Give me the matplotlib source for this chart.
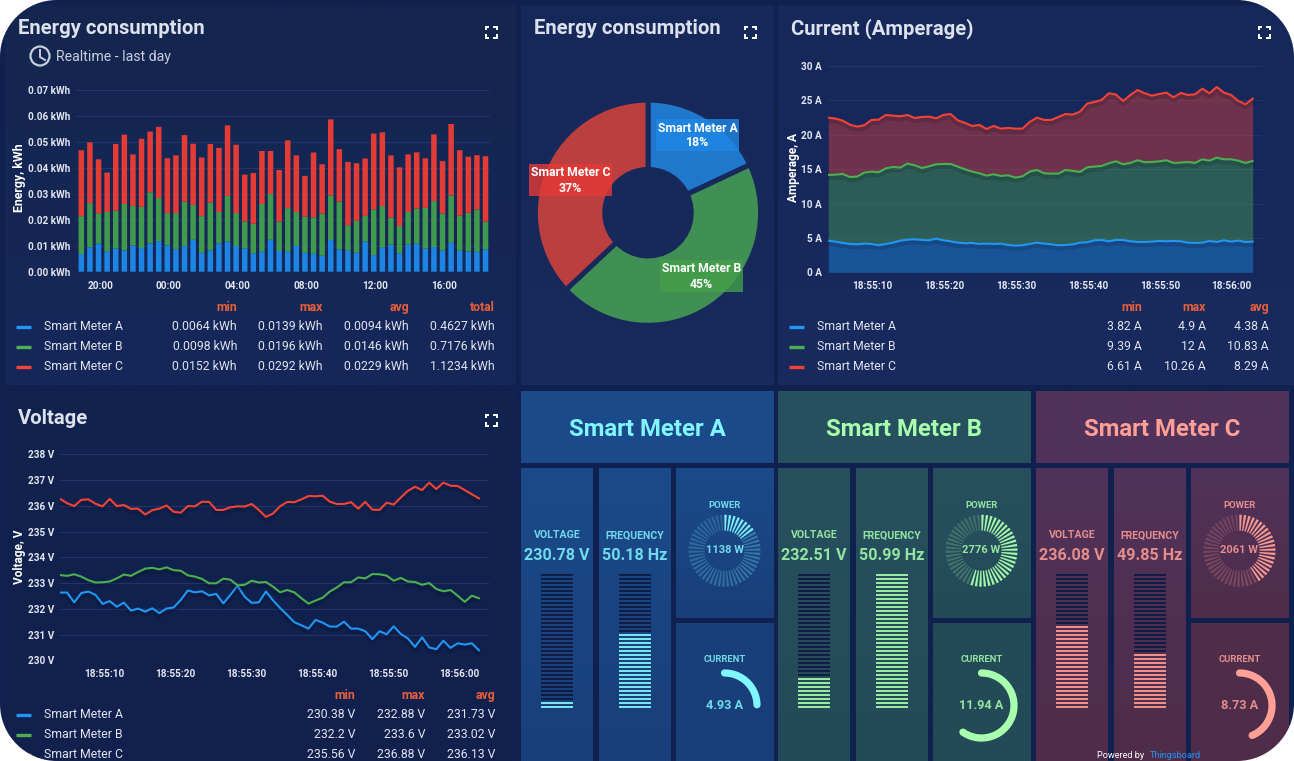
import numpy as np
import matplotlib
matplotlib.use('Agg')
import matplotlib.pyplot as plt
import matplotlib.patheffects as pe
from matplotlib.patches import Rectangle, PathPatch, Circle
from matplotlib.path import Path

plt.rcParams['font.family'] = ['Roboto', 'DejaVu Sans']

W, H = 1294, 761

# ==============================================================================
# DATA
# ==============================================================================
meters = ['Smart Meter A', 'Smart Meter B', 'Smart Meter C']

energy_a = [.0068, .0094, .0108, .0077, .0089, .0082, .0101, .0091, .0109, .0118, .0101, .0086,
            .0098, .0123, .0073, .0081, .0109, .0116, .0099, .0090, .0071, .0077, .0123, .0080,
            .0077, .0099, .0073, .0069, .0062, .0122, .0086, .0081, .0073, .0116, .0064, .0092,
            .0104, .0071, .0104, .0108, .0089, .0095, .0081, .0112, .0081, .0078, .0077, .0086]
energy_b = [.0146, .0170, .0117, .0153, .0146, .0179, .0152, .0159, .0197, .0166, .0125, .0140,
            .0172, .0134, .0141, .0185, .0121, .0176, .0127, .0104, .0114, .0184, .0176, .0113,
            .0168, .0131, .0139, .0140, .0162, .0172, .0184, .0098, .0123, .0099, .0176, .0161,
            .0104, .0105, .0126, .0135, .0157, .0177, .0143, .0182, .0135, .0149, .0163, .0107]
energy_c = [.0254, .0234, .0208, .0152, .0257, .0267, .0199, .0262, .0234, .0274, .0211, .0222,
            .0256, .0236, .0226, .0226, .0247, .0272, .0263, .0180, .0195, .0204, .0166, .0199,
            .0261, .0218, .0157, .0250, .0190, .0293, .0202, .0244, .0222, .0221, .0292, .0284,
            .0240, .0226, .0222, .0217, .0191, .0257, .0202, .0275, .0252, .0216, .0209, .0252]
energy_ticks = [0, .01, .02, .03, .04, .05, .06, .07]
energy_tick_labels = ['0.00 kWh', '0.01 kWh', '0.02 kWh', '0.03 kWh', '0.04 kWh', '0.05 kWh', '0.06 kWh', '0.07 kWh']
hour_ticks = [20, 24, 28, 32, 36, 40]
hour_labels = ['20:00', '00:00', '04:00', '08:00', '12:00', '16:00']

pie_values = [18, 45, 37]

# stacked tops of the amperage chart, as drawn
current_a = [4.60, 4.46, 4.27, 4.12, 4.07, 4.17, 4.12, 3.93, 4.12, 4.31, 4.60, 4.75, 4.80, 4.70, 4.65,
             4.90, 4.65, 4.51, 4.31, 4.22, 4.27, 4.12, 4.17, 4.12, 4.17, 3.97, 3.88, 3.93, 4.12, 4.31,
             4.17, 4.07, 3.93, 3.97, 4.07, 4.31, 4.36, 4.65, 4.70, 4.51, 4.70, 4.70, 4.51, 4.41, 4.41,
             4.46, 4.56, 4.51, 4.56, 4.51, 4.31, 4.27, 4.31, 4.56, 4.41, 4.65, 4.46, 4.60, 4.41, 4.46]
current_ab = [14.15, 14.20, 14.30, 13.86, 13.91, 14.49, 14.64, 14.54, 15.12, 15.32, 15.22, 15.80, 15.56, 15.17, 15.41,
              15.71, 15.75, 15.75, 15.37, 14.98, 14.64, 14.40, 14.06, 14.25, 14.01, 14.11, 13.77, 13.96, 14.64, 14.88,
              14.40, 14.35, 14.35, 14.88, 14.74, 14.59, 15.27, 15.37, 15.46, 15.85, 16.14, 15.71, 15.90, 16.29, 16.00,
              16.04, 16.14, 16.29, 15.90, 15.95, 16.04, 15.90, 16.43, 16.24, 16.67, 16.43, 16.43, 16.24, 15.90, 16.19]
current_abc = [22.49, 22.35, 22.06, 21.47, 21.18, 21.38, 22.15, 22.20, 22.88, 22.78, 22.69, 22.88, 22.44, 22.59, 22.64,
               22.39, 22.88, 23.02, 22.10, 21.72, 21.28, 21.43, 20.84, 21.28, 20.89, 20.99, 20.89, 20.89, 21.86, 22.49,
               22.15, 22.15, 22.59, 23.02, 22.93, 23.36, 24.53, 24.77, 25.06, 26.03, 25.84, 24.92, 25.79, 26.51, 26.03,
               25.69, 25.93, 26.13, 25.45, 26.08, 25.79, 25.88, 26.71, 26.03, 26.95, 26.13, 25.79, 24.92, 24.43, 25.25]
current_ticks = [0, 5, 10, 15, 20, 25, 30]
current_tick_labels = ['0 A', '5 A', '10 A', '15 A', '20 A', '25 A', '30 A']

voltage_a = [232.63, 232.63, 232.25, 232.61, 232.67, 232.54, 232.19, 232.30, 232.08, 232.24, 231.93, 232.01,
             231.89, 232.02, 231.83, 232.01, 232.05, 232.34, 232.71, 232.64, 232.68, 232.52, 232.58, 232.21,
             232.54, 232.89, 232.47, 232.23, 232.25, 232.67, 232.33, 232.03, 231.76, 231.48, 231.36, 231.23,
             231.57, 231.46, 231.31, 231.31, 231.50, 231.23, 231.23, 231.13, 230.82, 231.13, 231.01, 231.32,
             231.02, 230.85, 230.52, 230.89, 230.50, 230.43, 230.76, 230.48, 230.66, 230.61, 230.66, 230.39]
voltage_b = [233.31, 233.28, 233.34, 233.25, 233.11, 233.02, 233.03, 233.06, 233.18, 233.33, 233.28, 233.43,
             233.56, 233.59, 233.53, 233.61, 233.50, 233.48, 233.30, 233.25, 233.16, 232.99, 232.99, 233.17,
             233.13, 232.91, 232.93, 233.09, 233.02, 233.04, 232.86, 232.64, 232.73, 232.64, 232.41, 232.20,
             232.32, 232.43, 232.67, 232.83, 233.03, 233.03, 233.22, 233.18, 233.35, 233.34, 233.29, 233.09,
             233.20, 233.06, 233.04, 232.93, 233.00, 232.77, 232.68, 232.73, 232.51, 232.27, 232.51, 232.41]
voltage_c = [236.27, 236.10, 235.99, 236.23, 236.25, 236.08, 235.98, 236.27, 235.99, 236.03, 235.88, 235.89,
             235.66, 235.83, 235.89, 236.01, 235.77, 235.73, 235.99, 235.98, 236.16, 236.15, 235.84, 235.84,
             235.94, 235.98, 235.97, 236.07, 235.84, 235.57, 235.70, 235.98, 236.15, 236.14, 236.25, 236.38,
             236.37, 236.39, 236.16, 236.07, 236.07, 236.14, 235.89, 236.15, 235.85, 235.84, 236.12, 236.05,
             236.32, 236.58, 236.74, 236.61, 236.90, 236.65, 236.90, 236.78, 236.77, 236.61, 236.45, 236.29]
voltage_ticks = [230, 231, 232, 233, 234, 235, 236, 237, 238]
voltage_tick_labels = ['230 V', '231 V', '232 V', '233 V', '234 V', '235 V', '236 V', '237 V', '238 V']

second_ticks = [10, 20, 30, 40, 50, 60]
second_labels = ['18:55:10', '18:55:20', '18:55:30', '18:55:40', '18:55:50', '18:56:00']

energy_table = [['0.0064 kWh', '0.0139 kWh', '0.0094 kWh', '0.4627 kWh'],
                ['0.0098 kWh', '0.0196 kWh', '0.0146 kWh', '0.7176 kWh'],
                ['0.0152 kWh', '0.0292 kWh', '0.0229 kWh', '1.1234 kWh']]
current_table = [['3.82 A', '4.9 A', '4.38 A'],
                 ['9.39 A', '12 A', '10.83 A'],
                 ['6.61 A', '10.26 A', '8.29 A']]
voltage_table = [['230.38 V', '232.88 V', '231.73 V'],
                 ['232.2 V', '233.6 V', '233.02 V'],
                 ['235.56 V', '236.88 V', '236.13 V']]

voltage_text = ['230.78 V', '232.51 V', '236.08 V']
frequency_text = ['50.18 Hz', '50.99 Hz', '49.85 Hz']
power_text = ['1138 W', '2776 W', '2061 W']
current_text = ['4.93 A', '11.94 A', '8.73 A']
current_now = [4.93, 11.94, 8.73]
voltage_stripes = [2, 8, 21]
frequency_stripes = [19, 34, 14]
power_lit_ticks = [8, 28, 21]

# ==============================================================================
# STYLE
# ==============================================================================
BLUE, GREEN, RED = '#2196f3', '#4caf50', '#f44336'
BAR_COLORS = ['#1c84e3', '#3f9a4e', '#e23c34']
SLICE_COLORS = ['#1f78cb', '#408f55', '#bc3f40']
LABEL_COLORS = ['#1e88e5', '#43a047', '#e53935']
ACCENT = ['#80f6ff', '#a8ffae', '#ff9f96']
STRIPE_COLORS = ['#78e4ee', '#98ec9f', '#f08f88']
METER_TOP = ['#1b4a8a', '#27505f', '#51325a']
METER_BOTTOM = ['#183f79', '#234a57', '#4f2c4a']
PAGE = '#11214f'
GRID = '#23346a'
TICK = '#e3e6ef'
TITLE = '#dde1ec'
HEADER = '#e8603a'
STRIPE_OFF = '#101c44'

fig = plt.figure(figsize=(W / 100, H / 100), dpi=100, facecolor='white')


def px_axes(x0, y0, x1, y1, zorder=2):
    ax = fig.add_axes([x0 / W, 1 - y1 / H, (x1 - x0) / W, (y1 - y0) / H], zorder=zorder)
    ax.patch.set_alpha(0)
    return ax


bg = px_axes(0, 0, W, H, zorder=0)
fg = px_axes(0, 0, W, H, zorder=5)
for a in (bg, fg):
    a.set_xlim(0, W)
    a.set_ylim(H, 0)
    a.axis('off')
    a.set_autoscale_on(False)


def panel(x0, y0, x1, y1, top, bottom=None):
    # vertical gradient box in page pixels
    bottom = bottom or top
    c0 = np.array(matplotlib.colors.to_rgb(top))
    c1 = np.array(matplotlib.colors.to_rgb(bottom))
    grad = np.linspace(0, 1, 64)[:, None, None] * (c1 - c0) + c0
    bg.imshow(grad, extent=(x0, x1, y1, y0), aspect='auto', interpolation='bilinear', zorder=1)


def fullscreen_icon(cx, cy):
    s, k = 5.5, 3.5
    for sx in (-1, 1):
        for sy in (-1, 1):
            fg.plot([cx + sx * (s - k), cx + sx * s, cx + sx * s], [cy + sy * s, cy + sy * s, cy + sy * (s - k)],
                    color='white', lw=1.4, solid_capstyle='butt', solid_joinstyle='miter')


def title(x, y, s):
    fg.text(x, y + 1, s, color=TITLE, fontsize=14.6, fontweight='bold', va='center', ha='left')


def style_chart(ax, yticks, ylabels, xticks, xlabels, ylabel, ylabel_x, ylabel_y, ylabel_size=8.6):
    ax.set_yticks(yticks)
    ax.set_yticklabels(ylabels)
    ax.set_xticks(xticks)
    ax.set_xticklabels(xlabels)
    ax.tick_params(length=0, colors=TICK, labelsize=7.2)
    ax.tick_params(axis='y', pad=4.5)
    ax.tick_params(axis='x', pad=6.5)
    for lab in ax.get_xticklabels() + ax.get_yticklabels():
        lab.set_fontweight('bold')
    ax.grid(True, axis='y', color=GRID, lw=0.8)
    ax.set_axisbelow(True)
    for s in ax.spines.values():
        s.set_visible(False)
    fg.text(ylabel_x, ylabel_y, ylabel, color='white', fontsize=ylabel_size, fontweight='bold',
            rotation=90, ha='center', va='center')


def legend_table(columns, col_x, swatch_x, label_x, header_y, rows, table):
    for name, x in zip(columns, col_x):
        fg.text(x, header_y + 4, name, color=HEADER, fontsize=8.8, fontweight='bold', ha='right', va='baseline')
    colors = [BLUE, GREEN, RED]
    for i, y in enumerate(rows):
        fg.plot([swatch_x, swatch_x + 15], [y + 1, y + 1], color=colors[i], lw=2.4, solid_capstyle='butt')
        fg.text(label_x, y, meters[i], color='#e0e4ee', fontsize=8.8, ha='left', va='center')
        for val, x in zip(table[i], col_x):
            fg.text(x, y, val, color='#e0e4ee', fontsize=8.8, ha='right', va='center')


# ==============================================================================
# PANELS
# ==============================================================================
bg.add_patch(Rectangle((0, 0), W, H, color=PAGE, zorder=0))
panel(5, 5, 516, 385, '#14254f', '#16285a')
panel(521, 5, 774, 385, '#16285a', '#182a5e')
panel(778, 5, W, 385, '#16285a', '#182a5e')
panel(5, 391, 516, H, '#12234f', '#11204d')

# ==============================================================================
# ENERGY BARS
# ==============================================================================
title(18, 28, 'Energy consumption')
fullscreen_icon(491, 32)
fg.add_patch(Circle((40, 56), 9.5, fill=False, ec='#c9cedd', lw=1.6))
fg.plot([40, 40, 45], [50, 57, 60], color='#c9cedd', lw=1.4)
fg.text(56, 56.5, 'Realtime - last day', color='#c9cedd', fontsize=10.2, ha='left', va='center')

ax1 = px_axes(76, 90, 490, 271.7)
hours = 18.91 + 0.5 * np.arange(len(energy_a))
ea, eb, ec = np.array(energy_a), np.array(energy_b), np.array(energy_c)
ax1.bar(hours, ea, width=0.32, color=BAR_COLORS[0], snap=False)
ax1.bar(hours, eb, width=0.32, bottom=ea, color=BAR_COLORS[1], snap=False)
ax1.bar(hours, ec, width=0.32, bottom=ea + eb, color=BAR_COLORS[2], snap=False)
ax1.set_xlim(18.6, 42.67)
ax1.set_ylim(0, 0.07)
style_chart(ax1, energy_ticks, energy_tick_labels, hour_ticks, hour_labels, 'Energy, kWh', 19, 178, 8.9)
legend_table(['min', 'max', 'avg', 'total'], [237, 323, 409, 495], 16, 44, 307, [326, 346, 366], energy_table)

# ==============================================================================
# PIE
# ==============================================================================
title(534, 28, 'Energy consumption')
fullscreen_icon(750, 32)
ax2 = px_axes(648 - 116, 212.7 - 116, 648 + 116, 212.7 + 116)
ax2.pie(pie_values, colors=SLICE_COLORS, startangle=90, counterclock=False, radius=1.0,
        wedgeprops=dict(width=0.616, edgecolor='#17295b', linewidth=3.6))
ax2.set_xlim(-1.03, 1.03)
ax2.set_ylim(-1.03, 1.03)

pie_boxes = [(656, 119, 739, 151), (660, 260, 743, 292), (529, 164, 612, 196)]
for i, (x0, y0, x1, y1) in enumerate(pie_boxes):
    fg.add_patch(Rectangle((x0, y0), x1 - x0, y1 - y0, color=LABEL_COLORS[i], alpha=0.8, lw=0))
    fg.text((x0 + x1) / 2, (y0 + y1) / 2 + 0.5, f'{meters[i]}\n{pie_values[i]}%', color='white', fontsize=8.8,
            fontweight='bold', ha='center', va='center', linespacing=1.2)

# ==============================================================================
# AMPERAGE
# ==============================================================================
title(791, 28, 'Current (Amperage)')
fullscreen_icon(1264, 32)
ax3 = px_axes(828.3, 66, 1262, 272.3)
sec3 = 3.9 + np.arange(len(current_a))
shadow = [pe.SimpleLineShadow(offset=(0, -2), shadow_color='black', alpha=0.13, linewidth=3.5), pe.Normal()]
ax3.fill_between(sec3, 0, current_a, color=BLUE, alpha=0.4, lw=0)
ax3.fill_between(sec3, current_a, current_ab, color=GREEN, alpha=0.4, lw=0)
ax3.fill_between(sec3, current_ab, current_abc, color=RED, alpha=0.4, lw=0)
for series, col in zip([current_a, current_ab, current_abc], [BLUE, GREEN, RED]):
    ax3.plot(sec3, series, color=col, lw=1.5, path_effects=shadow)
ax3.set_xlim(3.9, 64.2)
ax3.set_ylim(0, 30)
style_chart(ax3, current_ticks, current_tick_labels, second_ticks, second_labels, 'Amperage, A', 793, 167)
legend_table(['min', 'max', 'avg'], [1142, 1206, 1269], 789, 817, 307, [326, 346, 366], current_table)

# ==============================================================================
# VOLTAGE
# ==============================================================================
title(18, 417, 'Voltage')
fullscreen_icon(491, 420)
ax4 = px_axes(60, 454.3, 488.7, 660.3)
sec4 = 3.76 + np.arange(len(voltage_a))
for series, col in zip([voltage_a, voltage_b, voltage_c], [BLUE, GREEN, RED]):
    ax4.plot(sec4, series, color=col, lw=1.5, path_effects=shadow)
ax4.set_xlim(3.76, 3.76 + 428.7 / 7.1)
ax4.set_ylim(230, 238)
style_chart(ax4, voltage_ticks, voltage_tick_labels, second_ticks, second_labels, 'Voltage, V', 19, 557)
legend_table(['min', 'max', 'avg'], [355, 425, 495], 16, 44, 695, [714, 734, 754], voltage_table)

# ==============================================================================
# METER TILES
# ==============================================================================
N_STRIPES = 34
N_POWER_TICKS = 50
CURRENT_MAX = 20.0


def stripes(x0, lit, color):
    for k in range(N_STRIPES):
        on = k < lit
        fg.add_patch(Rectangle((x0, 706 - k * 4), 32, 2, color=color if on else STRIPE_OFF, lw=0))


for m, L in enumerate([521, 778, 1036]):
    top, bottom, acc = METER_TOP[m], METER_BOTTOM[m], ACCENT[m]
    panel(L, 391, L + 253, 463, top, top)
    panel(L, 468, L + 72, H, top, bottom)
    panel(L + 78, 468, L + 150, H, top, bottom)
    panel(L + 155, 468, L + 253, 618, top, bottom)
    panel(L + 155, 623, L + 253, H, bottom, bottom)
    fg.text(L + 126.5, 429.5, meters[m], color=acc, fontsize=17.2, fontweight='bold', ha='center', va='center')

    label_col = matplotlib.colors.to_rgba(acc, 0.85)
    fg.text(L + 36, 535.5, 'VOLTAGE', color=label_col, fontsize=7.6, fontweight='bold', ha='center', va='center')
    fg.text(L + 114, 535.5, 'FREQUENCY', color=label_col, fontsize=7.6, fontweight='bold', ha='center', va='center')
    fg.text(L + 36, 556, voltage_text[m], color=label_col, fontsize=11.6, fontweight='bold', ha='center', va='center')
    fg.text(L + 114, 556, frequency_text[m], color=label_col, fontsize=11.6, fontweight='bold', ha='center', va='center')
    stripes(L + 20, voltage_stripes[m], STRIPE_COLORS[m])
    stripes(L + 98, frequency_stripes[m], STRIPE_COLORS[m])

    # power ring, wedge shaped ticks
    cx, cy = L + 203.5, 550.7
    fg.text(cx, 505, 'POWER', color=label_col, fontsize=6.8, fontweight='bold', ha='center', va='center')
    for k in range(N_POWER_TICKS):
        th = 2 * np.pi * k / N_POWER_TICKS + 0.03
        alpha = 0.95 if k < power_lit_ticks[m] else 0.32 - 0.14 * k / N_POWER_TICKS
        d_in, d_out = 0.6 / 20, 1.25 / 36
        xs = [cx + 20 * np.sin(th - d_in), cx + 36 * np.sin(th - d_out), cx + 36 * np.sin(th + d_out), cx + 20 * np.sin(th + d_in)]
        ys = [cy - 20 * np.cos(th - d_in), cy - 36 * np.cos(th - d_out), cy - 36 * np.cos(th + d_out), cy - 20 * np.cos(th + d_in)]
        fg.fill(xs, ys, color=acc, alpha=alpha, lw=0)
    fg.text(cx, cy - 1, power_text[m], color=label_col, fontsize=8, fontweight='bold', ha='center', va='center')

    # current gauge
    cy2 = 705.5
    fg.text(cx, 660, 'CURRENT', color=label_col, fontsize=6.8, fontweight='bold', ha='center', va='center')
    th = np.radians(np.linspace(0, current_now[m] / CURRENT_MAX * 360, 90))
    fg.plot(cx + 32.5 * np.sin(th), cy2 - 32.5 * np.cos(th), color=acc, lw=5.2, solid_capstyle='round')
    fg.text(cx, cy2, current_text[m], color=label_col, fontsize=9.2, fontweight='bold', ha='center', va='center')

# footer, sits on the lower edge of the window
fg.text(1097, 755, 'Powered by', color='white', fontsize=6.6, ha='left', va='center')
fg.text(1150, 755, 'Thingsboard', color='#2196f3', fontsize=6.6, ha='left', va='center')

# ==============================================================================
# WINDOW CORNERS
# ==============================================================================
R = 57
K = 0.5523 * R
outer = [(-2, -2), (W + 2, -2), (W + 2, H + 2), (-2, H + 2), (-2, -2)]
outer_codes = [Path.MOVETO, Path.LINETO, Path.LINETO, Path.LINETO, Path.CLOSEPOLY]
inner = [(R, 0), (0 + R - K, 0), (0, R - K), (0, R),
         (0, H - R), (0, H - R + K), (R - K, H), (R, H),
         (W - R, H), (W - R + K, H), (W, H - R + K), (W, H - R),
         (W, R), (W, R - K), (W - R + K, 0), (W - R, 0), (R, 0)]
inner_codes = [Path.MOVETO, Path.CURVE4, Path.CURVE4, Path.CURVE4,
               Path.LINETO, Path.CURVE4, Path.CURVE4, Path.CURVE4,
               Path.LINETO, Path.CURVE4, Path.CURVE4, Path.CURVE4,
               Path.LINETO, Path.CURVE4, Path.CURVE4, Path.CURVE4, Path.CLOSEPOLY]
fg.add_patch(PathPatch(Path(outer + inner, outer_codes + inner_codes), fc='white', ec='none', zorder=50))

fig.savefig('out.png', dpi=100)
plt.close(fig)
